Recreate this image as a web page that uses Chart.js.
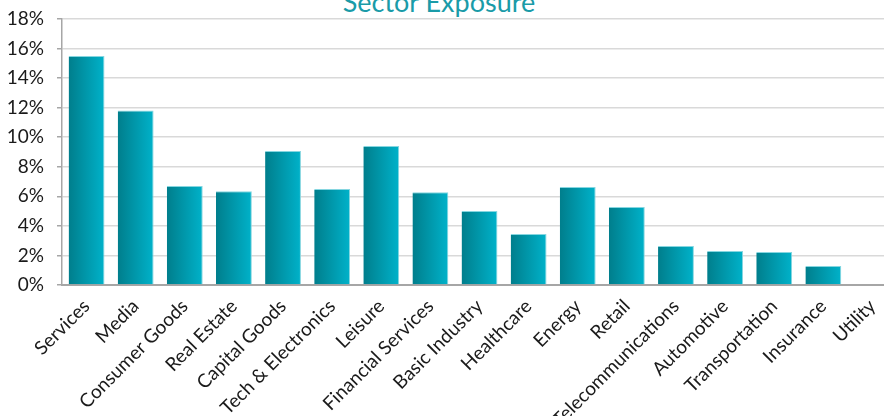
<!DOCTYPE html>
<html>
<head>
<meta charset="utf-8">
<script src="https://cdn.jsdelivr.net/npm/chart.js@4"></script>
<style>
    html, body { margin: 0; padding: 0; background: #fff; overflow: hidden; width: 884px; height: 418px; }
    #wrap { position: absolute; left: 0; top: -24px; width: 910px; height: 440px; }
    #title { position: absolute; left: 0; width: 878px; top: -15px; text-align: center;
             font-family: Lato, sans-serif; font-size: 27px; color: #1a9ba8; }
</style>
</head>
<body>
<div id="title">Sector Exposure</div>
<div id="wrap"><canvas id="sector-chart" width="910" height="440"></canvas></div>
<script>
const sectors = ['Services', 'Media', 'Consumer Goods', 'Real Estate', 'Capital Goods', 'Tech & Electronics',
    'Leisure', 'Financial Services', 'Basic Industry', 'Healthcare', 'Energy', 'Retail',
    'Telecommunications', 'Automotive', 'Transportation', 'Insurance', 'Utility'];
const exposure = [15.5, 11.8, 6.7, 6.35, 9.07, 6.5, 9.4, 6.28, 5.0, 3.45, 6.63, 5.28, 2.64, 2.3, 2.23, 1.29, 0];
const yTicks = [0, 2, 4, 6, 8, 10, 12, 14, 16, 18];

const barShare = 0.73;

function barGradient(context) {
    const chart = context.chart;
    if (!chart.chartArea || !chart.scales.x) {
        return '#0096a8';
    }
    const xScale = chart.scales.x;
    const center = xScale.getPixelForValue(context.dataIndex);
    const half = xScale.width / sectors.length * barShare / 2;
    const g = chart.ctx.createLinearGradient(center - half, 0, center + half, 0);
    g.addColorStop(0, '#007e8c');
    g.addColorStop(1, '#00b2ca');
    return g;
}

const ctx = document.getElementById('sector-chart').getContext('2d');

new Chart(ctx, {
    type: 'bar',
    data: {
        labels: sectors,
        datasets: [{
            label: 'Sector Exposure',
            data: exposure,
            backgroundColor: barGradient,
            borderColor: '#86d6e0',
            borderWidth: { top: 1, right: 1, left: 0, bottom: 0 },
            borderSkipped: false,
            barPercentage: barShare,
            categoryPercentage: 1
        }]
    },
    options: {
        responsive: false,
        animation: false,
        layout: { padding: { top: 43, left: 0, right: 13, bottom: 0 } },
        plugins: {
            legend: { display: false },
            title: { display: false },
            tooltip: { enabled: false }
        },
        scales: {
            x: {
                grid: { display: false },
                border: { display: true, color: '#a6a6a6', width: 2 },
                ticks: {
                    color: '#1a1a1a',
                    font: { family: 'Lato', size: 19 },
                    minRotation: 45,
                    maxRotation: 45,
                    autoSkip: false,
                    padding: 2
                },
                afterFit: function (scale) {
                    scale.height = 131;
                    scale.paddingLeft = 0;
                    scale.paddingRight = 0;
                }
            },
            y: {
                min: 0,
                max: 18,
                afterBuildTicks: function (scale) {
                    scale.ticks = yTicks.map(v => ({ value: v }));
                },
                grid: { color: '#d9d9d9', lineWidth: 1.5, tickLength: 5, tickColor: '#a6a6a6' },
                border: { display: true, color: '#a6a6a6', width: 1.5 },
                ticks: {
                    color: '#1a1a1a',
                    font: { family: 'Lato', size: 19 },
                    padding: 13,
                    callback: v => v + '%'
                },
                afterFit: function (scale) {
                    scale.width = 62;
                }
            }
        }
    }
});
</script>
</body>
</html>
